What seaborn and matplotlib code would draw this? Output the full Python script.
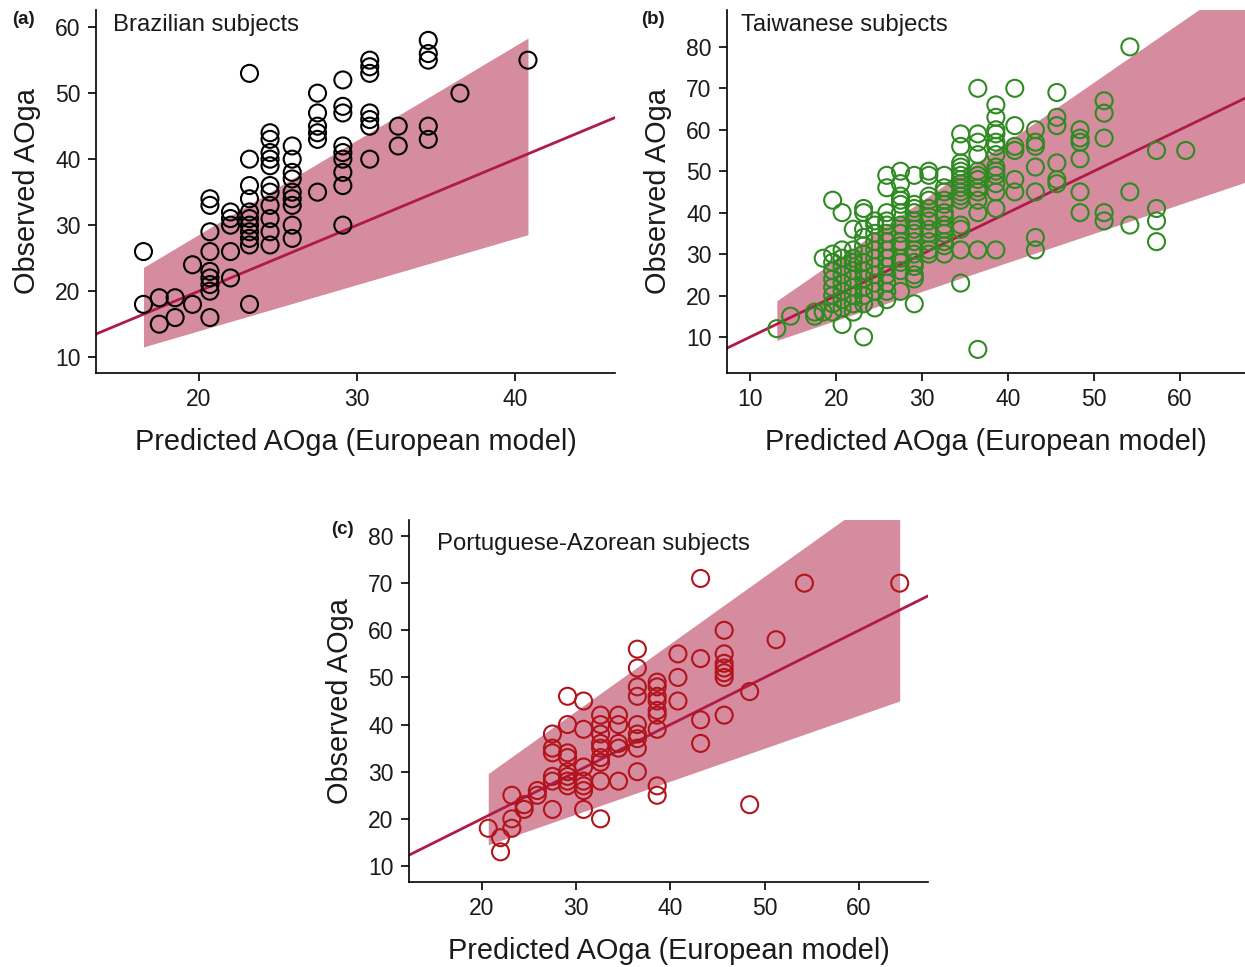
import numpy as np
import pandas as pd
import matplotlib
matplotlib.use("Agg")
import matplotlib.pyplot as plt
import seaborn as sns

# ---------------- data ----------------
# Panel (a) Brazilian subjects: predicted level -> observed values
bra_x = [16.5, 17.5, 18.5, 19.6, 20.7, 22.0, 23.2, 24.5, 25.9, 27.5, 29.1, 30.8, 32.6, 34.5, 36.5, 40.8]
bra_y = [
    [26, 18],
    [19, 15],
    [19, 16],
    [24, 18],
    [34, 33, 29, 26, 23, 22, 21, 20, 16],
    [32, 31, 30, 26, 22],
    [53, 40, 36, 34, 32, 31, 30, 29, 28, 27, 18],
    [44, 43, 41, 40, 39, 36, 35, 33, 31, 29, 27],
    [42, 40, 38, 37, 35, 34, 33, 30, 28],
    [50, 47, 45, 44, 43, 35],
    [52, 48, 47, 42, 41, 40, 38, 36, 30],
    [55, 54, 53, 47, 46, 45, 40],
    [45, 42],
    [58, 56, 55, 45, 43],
    [50],
    [55],
]

# Panel (b) Taiwanese subjects
tai_x = [13.1, 14.7, 17.5, 18.5, 19.6, 20.7, 22.0, 23.2, 24.5, 25.9, 27.5, 29.1, 30.8, 32.6,
         34.5, 36.5, 38.6, 40.8, 43.2, 45.7, 48.4, 51.2, 54.2, 57.3, 60.7]
tai_y = [
    [12],
    [15],
    [16, 15],
    [29, 16],
    [43, 30, 28, 26, 24, 22, 20, 18, 16],
    [40, 31, 29, 27, 25, 23, 21, 19, 17, 13],
    [36, 31, 29, 28, 26, 24, 22, 20, 18, 16],
    [41, 40, 36, 34, 32, 30, 28, 26, 24, 22, 20, 18, 10],
    [38, 37, 35, 33, 31, 29, 27, 25, 23, 21, 17],
    [49, 46, 40, 38, 37, 35, 33, 31, 29, 27, 25, 23, 21, 19],
    [50, 47, 44, 43, 42, 40, 37, 35, 33, 32, 29, 28, 26, 21],
    [49, 42, 41, 40, 38, 36, 35, 33, 31, 30, 28, 27, 25, 24, 18],
    [50, 49, 44, 43, 41, 39, 38, 36, 35, 33, 31, 30],
    [49, 46, 45, 43, 42, 40, 39, 37, 36, 35, 33, 32, 30],
    [59, 56, 52, 51, 50, 49, 48, 47, 46, 45, 44, 43, 37, 36, 31, 23],
    [70, 59, 57, 54, 50, 49, 48, 46, 45, 43, 40, 31, 7],
    [66, 63, 60, 59, 57, 56, 54, 51, 50, 49, 47, 45, 41, 31],
    [70, 61, 56, 55, 48, 45],
    [60, 57, 56, 51, 45, 34, 31],
    [69, 63, 61, 52, 48, 47],
    [60, 58, 57, 53, 45, 40],
    [67, 64, 58, 40, 38],
    [80, 45, 37],
    [55, 41, 38, 33],
    [55],
]

# Panel (c) Portuguese-Azorean subjects
por_x = [20.7, 22.0, 23.2, 24.5, 25.9, 27.5, 29.1, 30.8, 32.6, 34.5, 36.5, 38.6, 40.8,
         43.2, 45.7, 48.4, 51.2, 54.2, 64.3]
por_y = [
    [18],
    [16, 13],
    [25, 20, 18],
    [23, 22],
    [26, 25],
    [38, 35, 34, 29, 28, 22],
    [46, 40, 34, 33, 30, 29, 28, 27],
    [45, 39, 31, 28, 27, 26, 22],
    [42, 40, 38, 36, 35, 33, 32, 28, 20],
    [42, 40, 36, 35, 28],
    [56, 52, 48, 46, 40, 38, 37, 35, 30],
    [49, 48, 46, 45, 43, 42, 39, 27, 25],
    [55, 50, 45],
    [71, 54, 41, 36],
    [60, 55, 53, 52, 51, 50, 42],
    [47, 23],
    [58],
    [70],
    [70],
]

titles = ["Brazilian subjects", "Taiwanese subjects", "Portuguese-Azorean subjects"]
panel_labels = ["(a)", "(b)", "(c)"]
point_colors = ["black", "#2f8a22", "#b3141c"]
band_upper_ratio = 1.43
band_lower_ratio = 0.70
band_x_ranges = [(16.5, 40.8), (13.1, 70.0), (20.7, 64.3)]
x_limits = [(13.5, 46.3), (7.3, 67.6), (12.3, 67.3)]
y_limits = [(7.6, 62.6), (1.3, 88.9), (6.6, 83.4)]
x_ticks = [[20, 30, 40], [10, 20, 30, 40, 50, 60], [20, 30, 40, 50, 60]]
y_ticks = [[10, 20, 30, 40, 50, 60], [10, 20, 30, 40, 50, 60, 70, 80],
           [10, 20, 30, 40, 50, 60, 70, 80]]

BAND_COLOR = "#d48c9e"
LINE_COLOR = "#b01a48"
TEXT_COLOR = "#1a1a1a"


def to_frame(xs, ys):
    rows = []
    for x, col in zip(xs, ys):
        for y in col:
            rows.append((x, y))
    return pd.DataFrame(rows, columns=["pred", "obs"])


frames = [to_frame(bra_x, bra_y), to_frame(tai_x, tai_y), to_frame(por_x, por_y)]

# ---------------- figure ----------------
sns.set_theme(style="ticks")
plt.rcParams["font.family"] = ["Liberation Sans", "DejaVu Sans"]

fig = plt.figure(figsize=(12.45, 9.67), dpi=100)
W, H = 1245, 967
boxes = [(96, 10, 615, 373), (727, 10, 1245, 373), (409, 520, 928, 882)]
label_pos = [(12, 19), (641, 19), (331, 530)]
title_pos = [(0.033, 0.99), (0.027, 0.99), (0.054, 0.965)]

for i, (l, t, r, b) in enumerate(boxes):
    ax = fig.add_axes([l / W, 1 - b / H, (r - l) / W, (b - t) / H])
    df = frames[i]
    x0, x1 = x_limits[i]
    bx0, bx1 = band_x_ranges[i]
    bx = np.array([bx0, bx1])
    ax.fill_between(bx, bx * band_lower_ratio, bx * band_upper_ratio,
                    color=BAND_COLOR, linewidth=0, zorder=1)
    lx = np.array([x0, x1])
    sns.lineplot(x=lx, y=lx, color=LINE_COLOR, linewidth=2.0, ax=ax, zorder=2)
    sns.scatterplot(data=df, x="pred", y="obs", ax=ax, marker="o",
                    facecolors="none", edgecolor=point_colors[i], linewidth=1.5,
                    s=150, zorder=3)
    ax.set_xlim(x_limits[i])
    ax.set_ylim(y_limits[i])
    ax.set_xticks(x_ticks[i])
    ax.set_yticks(y_ticks[i])
    ax.tick_params(labelsize=16.5, length=6, width=1.2, pad=5,
                   color="black", labelcolor=TEXT_COLOR)
    for s in ["left", "bottom"]:
        ax.spines[s].set_linewidth(1.2)
        ax.spines[s].set_color("black")
    sns.despine(ax=ax)
    ax.set_xlabel("Predicted AOga (European model)", fontsize=20.8, color=TEXT_COLOR, labelpad=12)
    ax.set_ylabel("Observed AOga", fontsize=20.8, color=TEXT_COLOR, labelpad=10)
    ax.text(title_pos[i][0], title_pos[i][1], titles[i], transform=ax.transAxes,
            ha="left", va="top", fontsize=17.2, color=TEXT_COLOR)
    fig.text(label_pos[i][0] / W, 1 - label_pos[i][1] / H, panel_labels[i],
             fontsize=13.5, fontweight="bold", ha="left", va="center", color=TEXT_COLOR)

fig.savefig("out.png", dpi=100)
